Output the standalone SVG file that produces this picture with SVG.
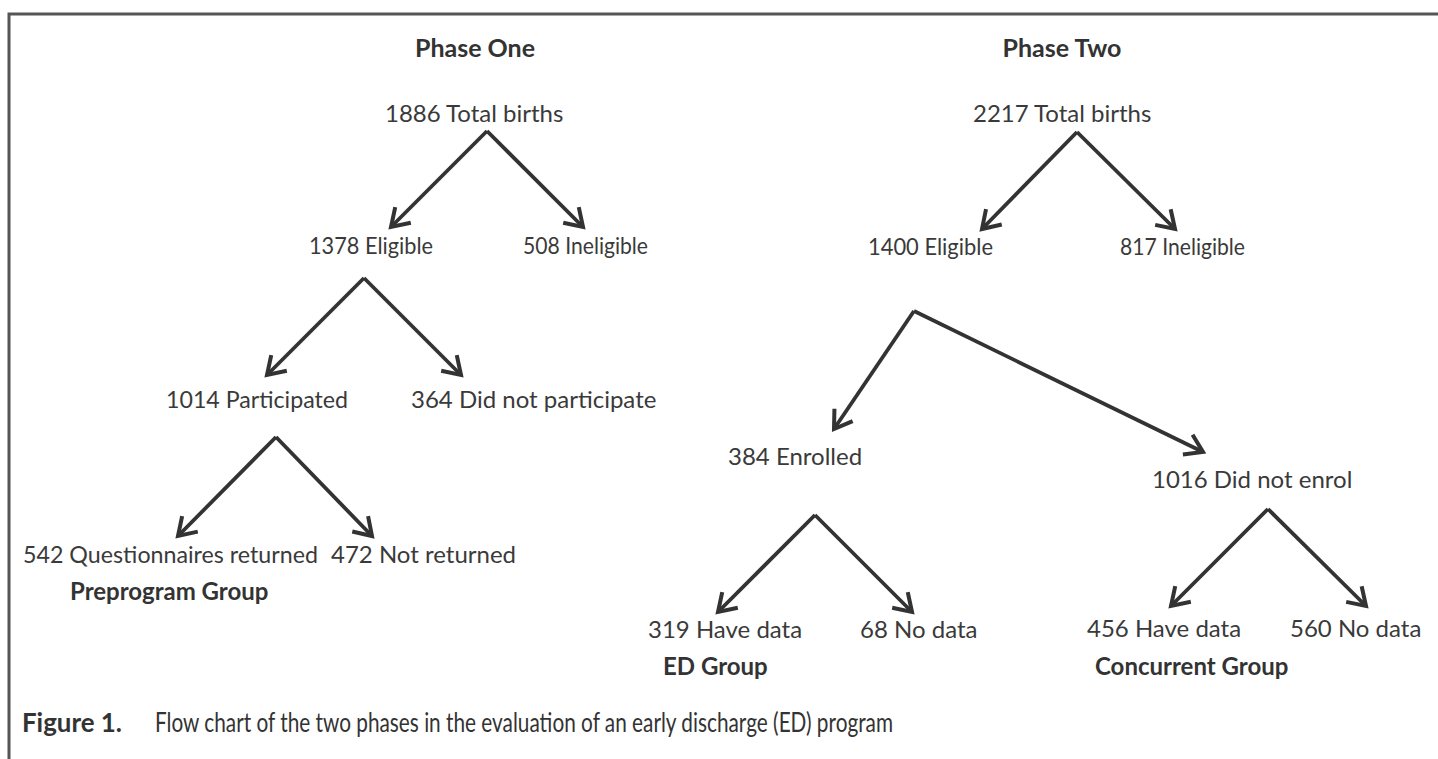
<svg xmlns="http://www.w3.org/2000/svg" width="1438" height="759" viewBox="0 0 1438 759">
<style>
.t{font-family:Lato,"Open Sans","Liberation Sans",sans-serif;font-size:24px;fill:#3a3a3a}
.b{font-family:Lato,"Open Sans","Liberation Sans",sans-serif;font-size:24px;font-weight:bold;fill:#333}
.h{font-family:Lato,"Open Sans","Liberation Sans",sans-serif;font-size:25px;font-weight:bold;fill:#333;text-anchor:middle}
.c{font-family:Lato,"Open Sans","Liberation Sans",sans-serif;font-size:26px;fill:#333}
.cb{font-family:Lato,"Open Sans","Liberation Sans",sans-serif;font-size:26px;font-weight:bold;fill:#333}
.a{fill:none;stroke:#333;stroke-width:3.8;marker-end:url(#ah)}
.frame{fill:none;stroke:#555;stroke-width:3}
</style>
<defs>
<marker id="ah" markerUnits="userSpaceOnUse" orient="auto" markerWidth="30" markerHeight="30" viewBox="-22 -15 26 30" refX="0" refY="0">
<path d="M-17,-11 L0,0 L-17,11" fill="none" stroke="#333" stroke-width="4" stroke-linejoin="miter"/>
</marker>
</defs>
<rect width="1438" height="759" fill="#fff"/>
<path class="frame" d="M9,759 L9,14 L1438,14"/>

<g id="connectors">
<line class="a" x1="487" y1="131" x2="391" y2="227"/>
<line class="a" x1="487" y1="131" x2="583" y2="227"/>
<line class="a" x1="364" y1="278" x2="267" y2="375"/>
<line class="a" x1="364" y1="278" x2="461" y2="375"/>
<line class="a" x1="276" y1="437" x2="178" y2="536"/>
<line class="a" x1="276" y1="437" x2="372" y2="536"/>
<line class="a" x1="1077" y1="132" x2="982" y2="229"/>
<line class="a" x1="1077" y1="132" x2="1175" y2="229"/>
<line class="a" x1="914" y1="311" x2="834" y2="429"/>
<line class="a" x1="914" y1="311" x2="1203" y2="452"/>
<line class="a" x1="815" y1="515" x2="718" y2="612"/>
<line class="a" x1="815" y1="515" x2="912" y2="612"/>
<line class="a" x1="1268" y1="509" x2="1171" y2="606"/>
<line class="a" x1="1268" y1="509" x2="1366" y2="606"/>
</g>

<g id="phase-one-title"><text class="h" x="475" y="57">Phase One</text></g>
<g id="phase-two-title"><text class="h" x="1062" y="57">Phase Two</text></g>

<g id="p1-total"><text class="t" x="385" y="122">1886 Total births</text></g>
<g id="p1-eligible"><text class="t" x="309" y="254" textLength="124" lengthAdjust="spacingAndGlyphs">1378 Eligible</text></g>
<g id="p1-ineligible"><text class="t" x="523" y="254" textLength="125" lengthAdjust="spacingAndGlyphs">508 Ineligible</text></g>
<g id="p1-participated"><text class="t" x="166" y="408" textLength="182" lengthAdjust="spacingAndGlyphs">1014 Participated</text></g>
<g id="p1-notpart"><text class="t" x="411" y="408">364 Did not participate</text></g>
<g id="p1-returned"><text class="t" x="23" y="563" textLength="295" lengthAdjust="spacingAndGlyphs">542 Questionnaires returned</text><text class="b" x="70" y="600">Preprogram Group</text></g>
<g id="p1-notreturned"><text class="t" x="331" y="563">472 Not returned</text></g>

<g id="p2-total"><text class="t" x="973" y="122">2217 Total births</text></g>
<g id="p2-eligible"><text class="t" x="868" y="255" textLength="125" lengthAdjust="spacingAndGlyphs">1400 Eligible</text></g>
<g id="p2-ineligible"><text class="t" x="1120" y="255" textLength="125" lengthAdjust="spacingAndGlyphs">817 Ineligible</text></g>
<g id="p2-enrolled"><text class="t" x="728" y="465">384 Enrolled</text></g>
<g id="p2-notenrol"><text class="t" x="1152" y="488">1016 Did not enrol</text></g>
<g id="p2-ed-have"><text class="t" x="648" y="638">319 Have data</text><text class="b" x="663" y="675">ED Group</text></g>
<g id="p2-ed-no"><text class="t" x="860" y="638">68 No data</text></g>
<g id="p2-conc-have"><text class="t" x="1087" y="637">456 Have data</text><text class="b" x="1095" y="675">Concurrent Group</text></g>
<g id="p2-conc-no"><text class="t" x="1290" y="637">560 No data</text></g>

<g id="caption">
<text class="cb" x="22" y="732" textLength="100" lengthAdjust="spacingAndGlyphs">Figure 1.</text>
<text class="c" x="155" y="732" textLength="738" lengthAdjust="spacingAndGlyphs">Flow chart of the two phases in the evaluation of an early discharge (ED) program</text>
</g>
</svg>
